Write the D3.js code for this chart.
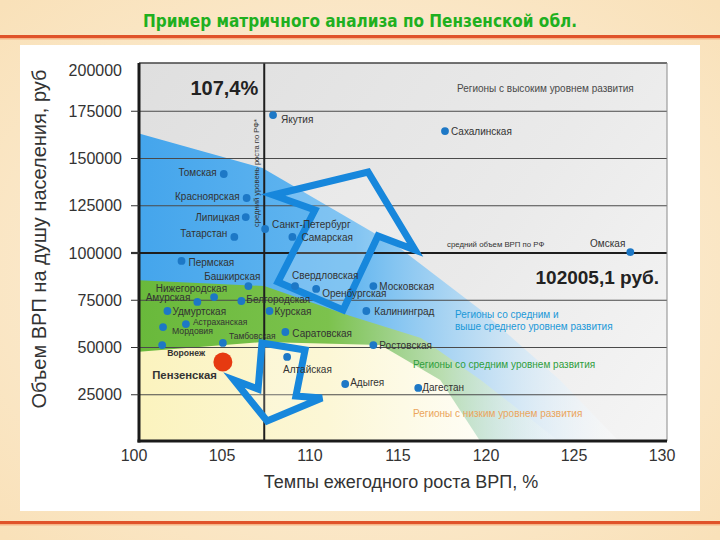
<!DOCTYPE html>
<html><head><meta charset="utf-8">
<script src="https://cdn.jsdelivr.net/npm/d3@7"></script>
<style>body{margin:0;background:#fff}svg{display:block;font-family:"Liberation Sans",Arial,sans-serif}</style>
</head><body>
<svg id="c" width="720" height="540"></svg>
<script>
// ---------- DATA ----------
const regionNames = ["Якутия","Сахалинская","Томская","Красноярская","Липицкая","Татарстан","Санкт-Петербург","Самарская","Омская","Пермская","Башкирская","Нижегородская","Амурская","Белгородская","Свердловская","Оренбургская","Московская","Удмуртская","Курская","Калининград","Мордовия","Астраханская","Саратовская","Тамбовская","Воронеж","Ростовская","Алтайская","Адыгея","Дагестан"];
const growthRate = [107.9,117.67,105.1,106.4,106.35,105.7,107.45,109.0,128.2,102.7,106.5,104.55,103.6,106.1,109.15,110.35,113.6,101.9,107.7,113.2,101.65,102.95,108.6,105.05,101.6,113.6,108.7,112.0,116.15];
const grpPerCapita = [173000,164500,141800,129100,119000,108500,112700,108500,100500,95800,82500,76700,74100,74600,82500,81000,82500,69300,69300,69300,60800,62400,58200,52400,51300,51300,45000,30700,28600];
const focusName = ["Пензенская"];
const focusGrowth = [105.05];
const focusGrp = [42300];
const xTickValues = [100,105,110,115,120,125,130];
const yTickValues = [25000,50000,75000,100000,125000,150000,175000,200000];
const avgGrowthRate = 107.4;
const avgGrpLine = 100000;
const avgGrowthLabel = "107,4%";
const avgGrpLabel = "102005,1 руб.";
// zone shapes (growth %, GRP)
const zoneBlue = [[100,164000],[107.3,145000],[115.1,102600],[119.7,69800],[124.2,32800],[127.6,0],[100,0]];
const zoneGreen = [[100,85700],[107.4,82500],[112.3,66700],[116.3,55000],[119.7,32800],[124.2,0],[100,0]];
const zoneYellow = [[100,47600],[107.3,52900],[114,51300],[117.4,32800],[119.7,0],[100,0]];
const arrowUp = [[108.18,84660],[110.28,122750],[107.9,130690],[113.3,142860],[115.97,101590],[113.86,109000],[111.88,69840]];
const arrowDown = [[107.27,52380],[109.72,48680],[109.2,24340],[110.68,23280],[107.56,11110],[105.68,32800],[107.05,28040]];

// ---------- LABEL LAYOUT (anchor, dx, dy, size, weight) ----------
const labelLayout = {
 "Якутия":["start",8,7.5,10],"Сахалинская":["start",6,3.5,10],"Томская":["end",-7,2.5,10],
 "Красноярская":["end",-7,1.5,10],"Липицкая":["end",-6,3.5,10],"Татарстан":["end",-7,0.5,10],
 "Санкт-Петербург":["start",7,-0.5,10],"Самарская":["start",9,4,10],"Омская":["end",-5,-5.5,10],
 "Пермская":["start",7,5,10],"Башкирская":["end",12,-6,10],"Нижегородская":["end",13,-5.5,10],
 "Амурская":["end",-7,-0.5,10],"Белгородская":["start",5,1.5,10],"Свердловская":["start",-3,-7.5,10],
 "Оренбургская":["start",6,8,10],"Московская":["start",6,3.5,10],"Удмуртская":["start",5,3.5,10],
 "Курская":["start",5,3.5,10],"Калининград":["start",8,3.5,10],"Мордовия":["start",9,6.5,8.7],
 "Астраханская":["start",7,0.5,8.5],"Саратовская":["start",7,4.5,10],"Тамбовская":["start",6,-3.5,8.5],
 "Воронеж":["start",5,10.5,8.6,"bold"],"Ростовская":["start",6,3.5,10],"Алтайская":["start",-4,16,10],
 "Адыгея":["start",5,2.5,10],"Дагестан":["start",4,3.5,10],"Пензенская":["end",-6,17,11.3,"bold"]
};

// ---------- SETUP ----------
const svg = d3.select("#c");
const x = d3.scaleLinear().domain([100,130]).range([134,662]);
const y = d3.scaleLinear().domain([0,200000]).range([442,64]);
const F = {l:139,r:667,t:63,b:441};
const defs = svg.append("defs");

function lin(id, stops, x1, y1, x2, y2){
  const g = defs.append("linearGradient").attr("id",id).attr("gradientUnits","userSpaceOnUse")
    .attr("x1",x1).attr("y1",y1).attr("x2",x2).attr("y2",y2);
  stops.forEach(s=>g.append("stop").attr("offset",s[0]).attr("stop-color",s[1]).attr("stop-opacity",s[2]==null?1:s[2]));
}
const pageBg = defs.append("radialGradient").attr("id","pg").attr("cx","50%").attr("cy","50%").attr("r","70%");
pageBg.append("stop").attr("offset",0).attr("stop-color","#fdf3e2");
pageBg.append("stop").attr("offset",1).attr("stop-color","#f9e1b9");
lin("plotbg",[[0,"#dfdfdf"],[0.6,"#eaeaea"],[1,"#f5f5f5"]],F.l,F.t,F.r,F.b);
lin("gBlue",[[0,"#44a5ec"],[0.45,"#67b8f0"],[0.72,"#b9dcf5",0.85],[1,"#ffffff",0.3]],F.l,0,620,0);
lin("gGreen",[[0,"#69b93b"],[0.45,"#7cc24d"],[0.72,"#bfe0a0",0.8],[1,"#ffffff",0.1]],F.l,0,560,0);
lin("gYellow",[[0,"#fbf3be"],[0.55,"#fcf7d6"],[1,"#fefdf5"]],F.l,0,480,0);
defs.append("clipPath").attr("id","clip").append("rect").attr("x",F.l).attr("y",F.t).attr("width",F.r-F.l).attr("height",F.b-F.t);

// page
svg.append("rect").attr("width",720).attr("height",540).attr("fill","url(#pg)");
svg.append("rect").attr("x",20).attr("y",45).attr("width",680).attr("height",466).attr("fill","#ffffff");
svg.append("rect").attr("x",0).attr("y",35).attr("width",720).attr("height",3).attr("fill","#e0532a");
svg.append("rect").attr("x",0).attr("y",38).attr("width",720).attr("height",1.5).attr("fill","#f6b486");
svg.append("rect").attr("x",0).attr("y",521).attr("width",720).attr("height",3).attr("fill","#e0532a");
svg.append("rect").attr("x",0).attr("y",524).attr("width",720).attr("height",1.5).attr("fill","#f6b486");
svg.append("text").attr("x",360).attr("y",27).attr("text-anchor","middle")
  .attr("font-family","'Liberation Sans Narrow','DejaVu Sans Condensed',sans-serif")
  .attr("font-weight","bold").attr("font-size",17).attr("fill","#1fb01f")
  .text("Пример матричного анализа по Пензенской обл.");

// plot background
const plot = svg.append("g").attr("clip-path","url(#clip)");
plot.append("rect").attr("x",F.l).attr("y",F.t).attr("width",F.r-F.l).attr("height",F.b-F.t).attr("fill","url(#plotbg)");
const area = d3.line().x(d=>x(d[0])).y(d=>y(d[1])).curve(d3.curveLinearClosed);
plot.append("path").attr("d",area(zoneBlue)).attr("fill","url(#gBlue)");
plot.append("path").attr("d",area(zoneGreen)).attr("fill","url(#gGreen)");
plot.append("path").attr("d",area(zoneYellow)).attr("fill","url(#gYellow)");

// grid
plot.selectAll("line.grid").data(yTickValues.filter(v=>v<200000)).join("line")
  .attr("x1",F.l).attr("x2",F.r).attr("y1",d=>y(d)).attr("y2",d=>y(d))
  .attr("stroke",d=>d===avgGrpLine?"#1e1e1e":"#4a4a4a").attr("stroke-width",d=>d===avgGrpLine?2.2:1);
plot.append("line").attr("x1",x(avgGrowthRate)).attr("x2",x(avgGrowthRate)).attr("y1",F.t).attr("y2",F.b)
  .attr("stroke","#1e1e1e").attr("stroke-width",2);

// arrows
[arrowUp,arrowDown].forEach(a=>{
  plot.append("path").attr("d",area(a)).attr("fill","#ffffff").attr("fill-opacity",0.18)
    .attr("stroke","#1787dc").attr("stroke-width",7).attr("stroke-linejoin","miter");
});

// annotations
svg.append("text").attr("x",x(avgGrowthRate)-6).attr("y",95).attr("text-anchor","end")
  .attr("font-weight","bold").attr("font-size",20).attr("fill","#222").text(avgGrowthLabel);
svg.append("text").attr("transform",`translate(${x(avgGrowthRate)-5},173) rotate(-90)`).attr("text-anchor","middle")
  .attr("font-size",7.6).attr("fill","#333").text("средний уровень роста по РФ*");
svg.append("text").attr("x",F.r-8).attr("y",y(avgGrpLine)+31).attr("text-anchor","end")
  .attr("font-weight","bold").attr("font-size",19).attr("fill","#222").text(avgGrpLabel);
svg.append("text").attr("x",447).attr("y",y(avgGrpLine)-6).attr("font-size",7.8).attr("fill","#333").text("средний объем ВРП по РФ");
svg.append("text").attr("x",457).attr("y",91.5).attr("font-size",10).attr("fill","#4a4a4a").text("Регионы с высоким уровнем развития");
svg.append("text").attr("x",455).attr("y",318).attr("font-size",10).attr("fill","#1a98d8").text("Регионы со средним и");
svg.append("text").attr("x",455).attr("y",330).attr("font-size",10).attr("fill","#1a98d8").text("выше среднего уровнем развития");
svg.append("text").attr("x",413).attr("y",367.5).attr("font-size",10).attr("fill","#2f9e3c").text("Регионы со средним уровнем развития");
svg.append("text").attr("x",413).attr("y",416.5).attr("font-size",10).attr("fill","#eba55c").text("Регионы с низким уровнем развития");

// points
const pts = regionNames.map((n,i)=>({n, gx:growthRate[i], gy:grpPerCapita[i]}));
const pg = svg.append("g");
pg.selectAll("circle").data(pts).join("circle").attr("cx",d=>x(d.gx)).attr("cy",d=>y(d.gy)).attr("r",3.9).attr("fill","#1d78c6");
pg.selectAll("text").data(pts).join("text")
  .attr("x",d=>x(d.gx)+labelLayout[d.n][1]).attr("y",d=>y(d.gy)+labelLayout[d.n][2])
  .attr("text-anchor",d=>labelLayout[d.n][0]).attr("font-size",d=>labelLayout[d.n][3])
  .attr("font-weight",d=>labelLayout[d.n][4]||"normal").attr("fill","#333").text(d=>d.n);
const fp = focusName.map((n,i)=>({n, gx:focusGrowth[i], gy:focusGrp[i]}));
svg.selectAll("circle.focus").data(fp).join("circle").attr("class","focus").attr("cx",d=>x(d.gx)).attr("cy",d=>y(d.gy)).attr("r",9.5).attr("fill","#e63a10");
svg.selectAll("text.focus").data(fp).join("text").attr("class","focus")
  .attr("x",d=>x(d.gx)+labelLayout[d.n][1]).attr("y",d=>y(d.gy)+labelLayout[d.n][2])
  .attr("text-anchor","end").attr("font-size",11.3).attr("font-weight","bold").attr("fill","#333").text(d=>d.n);

// frame
svg.append("line").attr("x1",F.l).attr("x2",F.r).attr("y1",F.t).attr("y2",F.t).attr("stroke","#444").attr("stroke-width",1.5);
svg.append("line").attr("x1",F.r).attr("x2",F.r).attr("y1",F.t).attr("y2",F.b).attr("stroke","#8a8a8a").attr("stroke-width",1);
svg.append("line").attr("x1",F.l-1.5).attr("x2",F.r).attr("y1",F.b).attr("y2",F.b).attr("stroke","#1a1a1a").attr("stroke-width",3);
svg.append("line").attr("x1",F.l).attr("x2",F.l).attr("y1",F.t).attr("y2",F.b+1.5).attr("stroke","#1a1a1a").attr("stroke-width",3);

// axes
svg.selectAll("line.yt").data(yTickValues.filter(v=>v<200000)).join("line").attr("class","yt")
  .attr("x1",131).attr("x2",F.l).attr("y1",d=>y(d)).attr("y2",d=>y(d))
  .attr("stroke","#333").attr("stroke-width",d=>d===avgGrpLine?2.2:1);
svg.selectAll("text.yl").data(yTickValues).join("text").attr("class","yl")
  .attr("x",122).attr("y",d=>d===200000?y(d)+6:y(d)).attr("dy","0.35em").attr("text-anchor","end")
  .attr("font-size",16).attr("fill","#333").text(d=>d);
svg.selectAll("text.xl").data(xTickValues).join("text").attr("class","xl")
  .attr("x",d=>x(d)).attr("y",461).attr("text-anchor","middle")
  .attr("font-size",16).attr("fill","#333").text(d=>d);
svg.append("text").attr("x",401).attr("y",488).attr("text-anchor","middle").attr("font-size",18).attr("fill","#333")
  .text("Темпы ежегодного роста ВРП, %");
svg.append("text").attr("transform","translate(46,239) rotate(-90)").attr("text-anchor","middle").attr("font-size",20).attr("fill","#333")
  .text("Объем ВРП на душу населения, руб");
</script>
</body></html>
